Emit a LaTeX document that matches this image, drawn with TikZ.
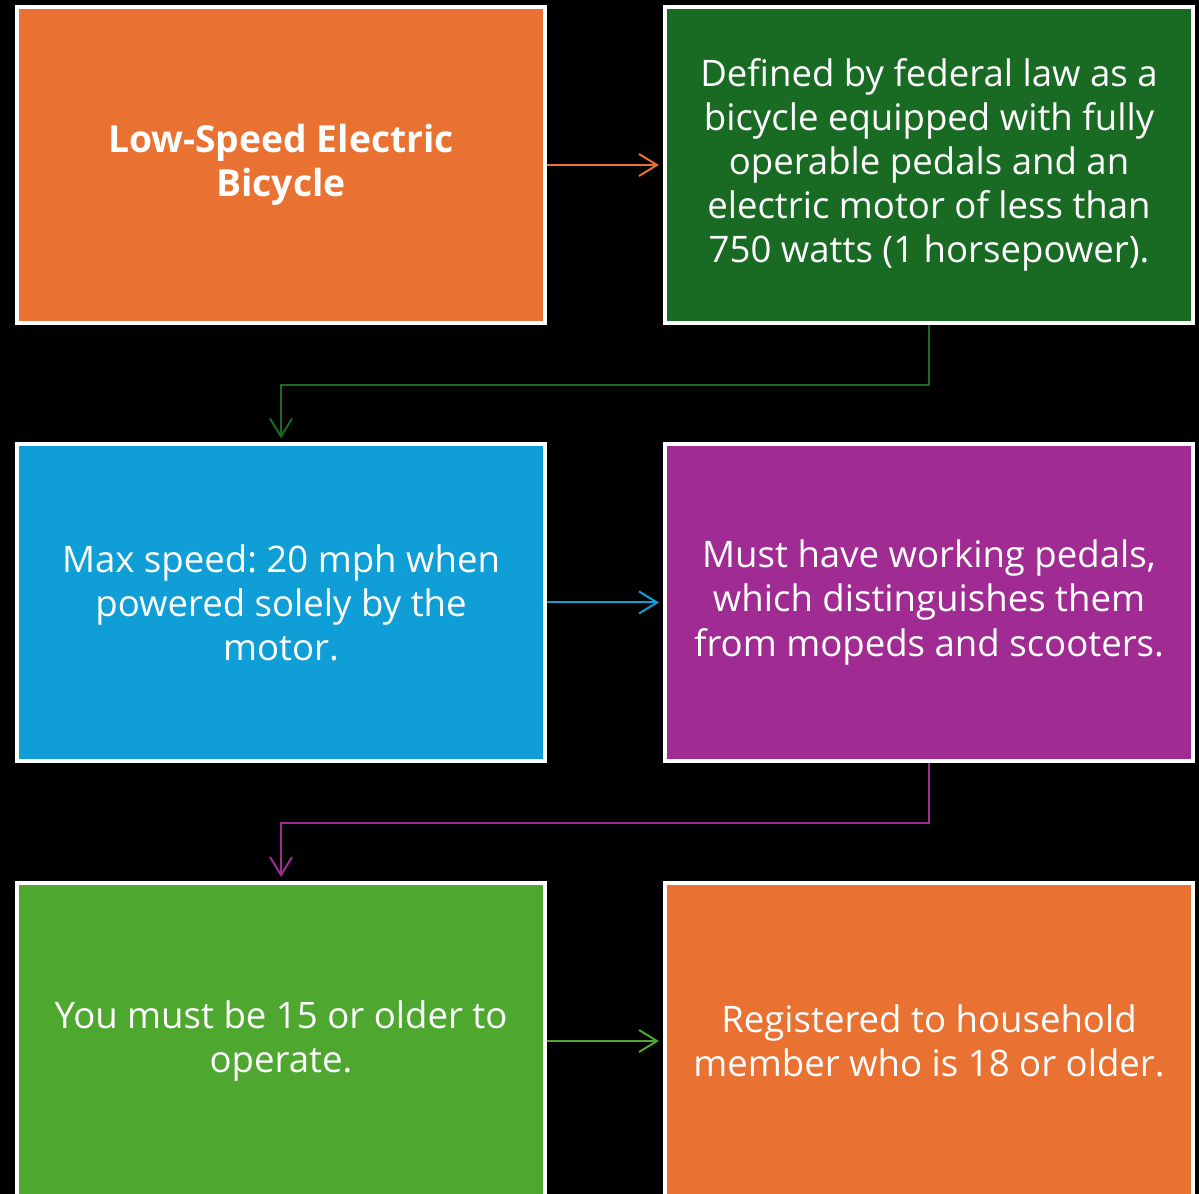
\documentclass[tikz,border=0pt]{standalone}
\usepackage{fontspec}
\setmainfont{Open Sans}
\frenchspacing
\usetikzlibrary{arrows.meta, positioning}
\definecolor{cOrange}{HTML}{E97132}
\definecolor{cDarkGreen}{HTML}{196B24}
\definecolor{cBlue}{HTML}{0F9ED5}
\definecolor{cPurple}{HTML}{A02B93}
\definecolor{cGreen}{HTML}{4EA72E}

\begin{document}
\begin{tikzpicture}[x=0.025cm,y=-0.025cm,
    box/.style={draw=white, line width=1mm, minimum width=13.2cm, minimum height=7.9cm,
      align=center, text=white, inner sep=0pt, font=\fontsize{26}{31.3}\selectfont},
    link/.style={line width=.5mm, -{Straight Barb[length=4.5mm,width=5.5mm]}, shorten >=1mm}]
    % black page
    \fill[black] (0,0) rectangle (1199,1194);
    \useasboundingbox (0,0) rectangle (1199,1194);

    % first row
    \node[box, fill=cOrange, font=\fontsize{26.5}{31.3}\selectfont\bfseries] (lowspeed) at (281,165)
      {Low-Speed Electric\\Bicycle};
    \node[box, fill=cDarkGreen] (federal) at (929,165)
      {Defined by federal law as a\\bicycle equipped with fully\\operable pedals and an\\electric motor of less than\\750 watts (1 horsepower).};

    % second row
    \node[box, fill=cBlue] (maxspeed) at (281,602.5)
      {Max speed: 20 mph when\\powered solely by the\\motor.};
    \node[box, fill=cPurple] (pedals) at (929,602.5)
      {Must have working pedals,\\which distinguishes them\\from mopeds and scooters.};

    % third row (runs off the bottom)
    \node[box, fill=cGreen] (age) at (281,1041)
      {You must be 15 or older to\\operate.};
    \node[box, fill=cOrange] (owner) at (929,1041)
      {Registered to household\\member who is 18 or older.};

    % connectors
    \draw[link, draw=cOrange] (lowspeed) -- (federal);
    \draw[link, draw=cDarkGreen] (federal.south) -- ++(0,60) -| (maxspeed.north);
    \draw[link, draw=cBlue] (maxspeed) -- (pedals);
    \draw[link, draw=cPurple] (pedals.south) -- ++(0,60) -| (age.north);
    \draw[link, draw=cGreen] (age) -- (owner);
\end{tikzpicture}
\end{document}
